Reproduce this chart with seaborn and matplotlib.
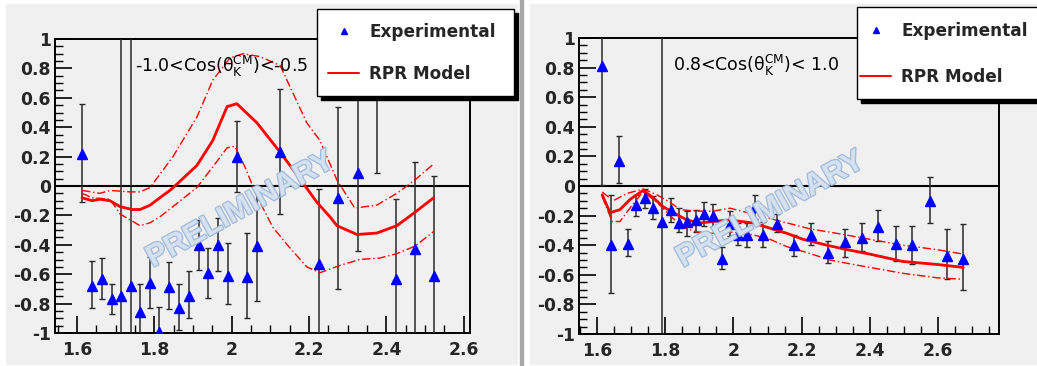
import matplotlib
matplotlib.use("Agg")
import matplotlib.pyplot as plt
import matplotlib.patheffects as pe
from matplotlib.lines import Line2D
from matplotlib.patches import Rectangle
from matplotlib.ticker import MultipleLocator, FuncFormatter
import numpy as np
import seaborn as sns

# ---- left panel: -1.0 < cos(theta_K) < -0.5 ----
left_x = [1.613, 1.639, 1.665, 1.690, 1.714, 1.739, 1.763, 1.789, 1.812, 1.838,
          1.864, 1.889, 1.915, 1.938, 1.964, 1.990, 2.014, 2.039, 2.065, 2.125,
          2.225, 2.275, 2.326, 2.375, 2.424, 2.473, 2.522]
left_y = [0.22, -0.68, -0.63, -0.77, -0.75, -0.68, -0.86, -0.66, -0.99, -0.69,
          -0.83, -0.75, -0.40, -0.59, -0.40, -0.61, 0.20, -0.62, -0.41, 0.23,
          -0.53, -0.08, 0.09, 0.80, -0.63, -0.43, -0.61]
left_lo = [-0.11, -0.83, -0.77, -0.87, -1.8, -1.8, -1.2, -0.83, -1.2, -0.84,
           -0.98, -0.90, -0.57, -0.76, -0.58, -0.80, -0.04, -0.90, -0.78, -0.19,
           -1.2, -0.70, -0.44, 0.09, -1.2, -1.2, -1.2]
left_hi = [0.56, -0.51, -0.49, -0.67, 1.5, 1.5, -0.67, -0.48, -0.82, -0.52,
           -0.67, -0.58, -0.23, -0.42, -0.22, -0.39, 0.44, -0.32, -0.03, 0.66,
           -0.02, 0.54, 1.2, 1.5, -0.09, 0.16, 0.07]

left_mid_x = [1.613, 1.639, 1.659, 1.685, 1.711, 1.742, 1.763, 1.789, 1.814, 1.840,
              1.853, 1.910, 1.951, 1.988, 2.013, 2.065, 2.125, 2.176, 2.220, 2.254,
              2.272, 2.324, 2.375, 2.427, 2.473, 2.522]
left_mid_y = [-0.08, -0.10, -0.09, -0.10, -0.14, -0.16, -0.16, -0.13, -0.08, -0.03,
              0.00, 0.14, 0.31, 0.54, 0.56, 0.43, 0.23, 0.05, -0.11, -0.21,
              -0.27, -0.33, -0.32, -0.27, -0.18, -0.08]
left_up_x = [1.613, 1.659, 1.685, 1.737, 1.763, 1.789, 1.848, 1.910, 1.951, 1.995,
             2.029, 2.073, 2.125, 2.194, 2.228, 2.272, 2.318, 2.375, 2.427, 2.473, 2.522]
left_up_y = [-0.03, -0.05, -0.03, -0.04, -0.04, -0.01, 0.20, 0.47, 0.72, 0.87,
             0.90, 0.88, 0.82, 0.43, 0.31, 0.04, -0.15, -0.13, -0.05, 0.04, 0.15]
left_dn_x = [1.613, 1.639, 1.685, 1.711, 1.737, 1.763, 1.789, 1.814, 1.848, 1.910,
             1.951, 1.988, 2.008, 2.034, 2.065, 2.106, 2.150, 2.194, 2.228, 2.280,
             2.331, 2.383, 2.427, 2.473, 2.522]
left_dn_y = [-0.05, -0.08, -0.09, -0.19, -0.23, -0.27, -0.25, -0.21, -0.14, -0.01,
             0.13, 0.26, 0.27, 0.13, -0.07, -0.28, -0.42, -0.55, -0.59, -0.54,
             -0.50, -0.49, -0.46, -0.41, -0.31]

# ---- right panel: 0.8 < cos(theta_K) < 1.0 ----
right_x = [1.615, 1.641, 1.665, 1.691, 1.714, 1.741, 1.765, 1.791, 1.817, 1.840,
           1.864, 1.890, 1.914, 1.940, 1.967, 1.990, 2.014, 2.040, 2.063, 2.087,
           2.128, 2.177, 2.227, 2.276, 2.326, 2.377, 2.425, 2.477, 2.524, 2.577,
           2.627, 2.674]
right_y = [0.81, -0.40, 0.17, -0.39, -0.13, -0.08, -0.15, -0.24, -0.16, -0.25,
           -0.24, -0.23, -0.19, -0.20, -0.49, -0.26, -0.33, -0.33, -0.14, -0.33,
           -0.26, -0.40, -0.33, -0.45, -0.38, -0.35, -0.28, -0.39, -0.40, -0.10,
           -0.47, -0.49]
right_lo = [0.01, -0.72, 0.02, -0.47, -0.20, -0.15, -0.22, -1.5, -0.24, -0.31,
            -0.34, -0.31, -0.27, -0.28, -0.56, -0.34, -0.40, -0.41, -0.22, -0.41,
            -0.31, -0.47, -0.40, -0.52, -0.48, -0.44, -0.37, -0.51, -0.53, -0.25,
            -0.63, -0.70]
right_hi = [1.6, -0.06, 0.34, -0.29, -0.06, -0.02, -0.07, 1.5, -0.08, -0.15,
            -0.17, -0.16, -0.11, -0.12, -0.41, -0.17, -0.25, -0.25, -0.06, -0.24,
            -0.19, -0.33, -0.25, -0.37, -0.29, -0.25, -0.16, -0.27, -0.27, 0.06,
            -0.29, -0.26]

right_mid_x = [1.615, 1.638, 1.667, 1.697, 1.735, 1.765, 1.794, 1.823, 1.864, 1.902,
               1.940, 1.990, 2.058, 2.107, 2.157, 2.204, 2.274, 2.333, 2.400, 2.497,
               2.597, 2.674]
right_mid_y = [-0.06, -0.18, -0.16, -0.09, -0.03, -0.08, -0.14, -0.18, -0.23, -0.25,
               -0.24, -0.23, -0.25, -0.285, -0.32, -0.36, -0.40, -0.43, -0.46, -0.51,
               -0.53, -0.55]
right_up_x = [1.615, 1.647, 1.688, 1.735, 1.776, 1.814, 1.844, 1.893, 1.940, 1.990,
              2.058, 2.107, 2.175, 2.225, 2.304, 2.400, 2.497, 2.597, 2.674]
right_up_y = [-0.04, -0.10, -0.05, -0.02, -0.06, -0.11, -0.16, -0.17, -0.17, -0.15,
              -0.19, -0.22, -0.26, -0.29, -0.32, -0.36, -0.40, -0.43, -0.46]
right_dn_x = [1.615, 1.644, 1.667, 1.706, 1.735, 1.776, 1.814, 1.852, 1.893, 1.940,
              1.990, 2.058, 2.107, 2.157, 2.216, 2.283, 2.351, 2.400, 2.497, 2.597, 2.674]
right_dn_y = [-0.07, -0.24, -0.24, -0.12, -0.04, -0.11, -0.20, -0.28, -0.31, -0.32,
              -0.31, -0.33, -0.36, -0.41, -0.45, -0.50, -0.53, -0.55, -0.59, -0.62, -0.63]

left_label = r"-1.0<Cos(θ$_{\mathrm{K}}^{\mathrm{CM}}$)<-0.5"
right_label = r"0.8<Cos(θ$_{\mathrm{K}}^{\mathrm{CM}}$)< 1.0"

W, H = 1037, 366
BG = "#f0f0f0"

sns.set_theme(style="ticks")
plt.rcParams["font.family"] = ["DejaVu Sans"]
plt.rcParams["axes.unicode_minus"] = False
plt.rcParams["mathtext.default"] = "regular"


def px(x0, y0, x1, y1):
    # pixel box (top-left origin) -> figure fraction rect
    return [x0 / W, 1 - y1 / H, (x1 - x0) / W, (y1 - y0) / H]


def draw_panel(ax, x, y, lo, hi, mid, up, dn, xlim):
    ax.set_facecolor(BG)
    x = np.array(x)
    y = np.array(y)
    yerr = [y - np.array(lo), np.array(hi) - y]
    ax.axhline(0, color="black", lw=1.5, zorder=2)
    ax.errorbar(x, y, yerr=yerr, fmt="none", ecolor="#2a2a2a", elinewidth=1.1,
                capsize=2.2, capthick=1, zorder=3)
    sns.lineplot(x=up[0], y=up[1], ax=ax, color="red", lw=1.0, sort=False, zorder=4)
    ax.lines[-1].set_dashes([6, 2, 1, 2])
    sns.lineplot(x=dn[0], y=dn[1], ax=ax, color="red", lw=1.0, sort=False, zorder=4)
    ax.lines[-1].set_dashes([6, 2, 1, 2])
    sns.lineplot(x=mid[0], y=mid[1], ax=ax, color="red", lw=2.0, sort=False, zorder=4)
    ax.plot(x, y, ls="none", marker="^", ms=6.5, color="#0000ff", mec="#0000ff", zorder=5)

    ax.set_xlim(*xlim)
    ax.set_ylim(-1, 1)
    ax.xaxis.set_major_locator(MultipleLocator(0.2))
    ax.xaxis.set_minor_locator(MultipleLocator(0.05))
    ax.yaxis.set_major_locator(MultipleLocator(0.2))
    ax.yaxis.set_minor_locator(MultipleLocator(0.05))
    fmt = FuncFormatter(lambda v, p: "%g" % round(v, 2))
    ax.xaxis.set_major_formatter(fmt)
    ax.yaxis.set_major_formatter(fmt)
    ax.tick_params(which="major", direction="in", length=12, width=1.2,
                   labelsize=12.3, pad=3, top=False, right=False, color="black")
    ax.tick_params(which="minor", direction="in", length=6, width=1.0,
                   top=False, right=False, color="black")
    for t in ax.get_xticklabels() + ax.get_yticklabels():
        t.set_fontweight("bold")
    ax.tick_params(axis="x", pad=6)
    for s in ax.spines.values():
        s.set_color("black")
        s.set_linewidth(1.4)
    ax.set_xlabel("")
    ax.set_ylabel("")


fig = plt.figure(figsize=(W / 100, H / 100), dpi=100, facecolor="white")

# ROOT-style canvas backgrounds and divider
for box, col, z in [((6, 4, 517, 364), BG, -10), ((530, 4, 1037, 364), BG, -10),
                    ((520, 0, 522.5, 366), "#a8a8a8", -9)]:
    r = px(*box)
    fig.patches.append(Rectangle(r[:2], *r[2:], transform=fig.transFigure,
                                 color=col, zorder=z))

ax1 = fig.add_axes(px(55, 39, 470, 333))
ax2 = fig.add_axes(px(579, 38, 999, 334))

draw_panel(ax1, left_x, left_y, left_lo, left_hi,
           (left_mid_x, left_mid_y), (left_up_x, left_up_y), (left_dn_x, left_dn_y),
           (1.543, 2.616))
draw_panel(ax2, right_x, right_y, right_lo, right_hi,
           (right_mid_x, right_mid_y), (right_up_x, right_up_y), (right_dn_x, right_dn_y),
           (1.547, 2.779))

# bin labels
fig.text(135 / W, 1 - 72 / H, left_label, fontsize=12.5, color="black", zorder=6)
fig.text(673 / W, 1 - 71 / H, right_label, fontsize=12.5, color="black", zorder=6)

# PRELIMINARY watermarks
for cx in (240, 770):
    wm = fig.text(cx / W, 1 - 210 / H, "PRELIMINARY", fontsize=22, fontweight="bold",
                  family=["Liberation Sans", "DejaVu Sans"], rotation=29,
                  ha="center", va="center", color="#d8e3f1", alpha=0.9, zorder=6)
    wm.set_path_effects([pe.Stroke(linewidth=1.8, foreground="#9ab6d9"), pe.Normal()])

# legend boxes with ROOT-like solid shadows
handles = [Line2D([], [], ls="none", marker="^", ms=5, color="#0000ff"),
           Line2D([], [], color="red", lw=1.4)]
labels = ["Experimental", "RPR Model"]
for (x0, y0, x1, y1), cx, cy, sp in [((317, 9, 514, 96), 412, 53, 1.4),
                                     ((857, 7, 1040, 99), 944, 54, 1.65)]:
    r = px(x0 + 4, y0 + 4, x1 + 4, y1 + 4)
    fig.patches.append(Rectangle(r[:2], *r[2:], transform=fig.transFigure,
                                 color="black", zorder=7))
    r = px(x0, y0, x1, y1)
    fig.patches.append(Rectangle(r[:2], *r[2:], transform=fig.transFigure,
                                 facecolor="white", edgecolor="black", lw=1.0, zorder=8))
    leg = fig.legend(handles, labels, loc="center", bbox_to_anchor=(cx / W, 1 - cy / H),
                     frameon=False, fontsize=12.2, labelspacing=sp, handlelength=1.8,
                     handletextpad=0.6, borderpad=0)
    leg.set_zorder(9)
    for t in leg.get_texts():
        t.set_fontweight("bold")

fig.savefig("out.png", dpi=100, facecolor="white")
